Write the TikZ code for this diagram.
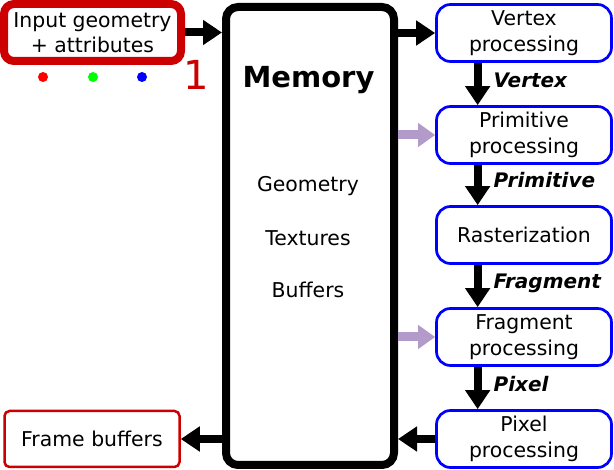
\documentclass[tikz,border=0pt]{standalone}
\usepackage{fontspec}
\setmainfont{DejaVu Sans}
\usetikzlibrary{arrows.meta,calc}
\definecolor{boxred}{RGB}{204,0,0}
\definecolor{boxblue}{RGB}{0,0,255}
\definecolor{lilac}{RGB}{178,154,202}
\definecolor{dotred}{RGB}{255,0,0}
\definecolor{dotgreen}{RGB}{0,255,0}
\definecolor{dotblue}{RGB}{0,0,255}
\tikzset{
  txt/.style={font=\fontsize{20.4pt}{25.5pt}\selectfont, align=center},
  inbox/.style={txt, draw=boxred, line width=8pt, rounded corners=10pt, minimum width=177pt, minimum height=57pt, inner sep=0pt},
  fbox/.style={txt, draw=boxred, line width=2.5pt, rounded corners=5pt, minimum width=175pt, minimum height=56pt, inner sep=0pt},
  membox/.style={draw=black, line width=8pt, rounded corners=12pt, minimum width=168pt, minimum height=458pt, inner sep=0pt},
  stage/.style={txt, draw=boxblue, line width=2.7pt, rounded corners=14pt, minimum width=175pt, minimum height=57pt, inner sep=0pt},
  bigarrow/.style={line width=8pt, -{Triangle[length=19pt,width=24pt]}},
  lilacarrow/.style={draw=lilac, line width=9pt, -{Triangle[length=17pt,width=23pt,fill=lilac]}},
  flowlbl/.style={font=\fontsize{20pt}{24pt}\selectfont\bfseries\itshape, inner sep=0pt, anchor=base west},
  dot/.style={circle, inner sep=0pt, minimum size=10pt}
}
\begin{document}
\begin{tikzpicture}[x=1pt,y=-1pt]
\useasboundingbox (0,0) rectangle (614,470);
% nodes
\node[inbox] (input) at (92.5,32.5) {Input geometry\\+ attributes};
\node[fbox] (frame) at (92,439) {Frame buffers};
\node[membox] (mem) at (310,236) {};
\node[font=\fontsize{29pt}{34pt}\selectfont\bfseries, inner sep=0pt] (memtitle) at (308.5,80) {Memory};
\node[txt, inner sep=0pt] (geo) at (308,186) {Geometry};
\node[txt, inner sep=0pt] (tex) at (308,238) {Textures};
\node[txt, inner sep=0pt] (buf) at (308,289.5) {Buffers};
\node[stage] (vertex) at (524,33) {Vertex\\processing};
\node[stage] (prim) at (524,135) {Primitive\\processing};
\node[stage] (rast) at (524,235) {Rasterization};
\node[stage] (frag) at (524,337) {Fragment\\processing};
\node[stage] (pixel) at (524,439) {Pixel\\processing};
% marker and dots
\node[text=boxred, font=\fontsize{40pt}{44pt}\selectfont, inner sep=0pt, anchor=base] (one) at (196,90) {1};
\node[dot, fill=dotred] (dr) at (43,77) {};
\node[dot, fill=dotgreen] (dg) at (93,77) {};
\node[dot, fill=dotblue] (db) at (142,77) {};
% horizontal arrows
\draw[bigarrow] (input.east) -- (input.east -| mem.west);
\draw[bigarrow] (vertex.west -| mem.east) -- (vertex.west);
\draw[lilacarrow] (prim.west -| mem.east) -- (prim.west);
\draw[lilacarrow] (frag.west -| mem.east) -- (frag.west);
\draw[bigarrow] (pixel.west) -- (pixel.west -| mem.east);
\draw[bigarrow] (frame.east -| mem.west) -- (frame.east);
% vertical arrows
\draw[bigarrow] ($(vertex.south west)+(42.5,0)$) -- ($(prim.north west)+(42.5,0)$)
  node[flowlbl, pos=0.5, xshift=12pt, yshift=-4pt] (lv) {Vertex};
\draw[bigarrow] ($(prim.south west)+(42.5,0)$) -- ($(rast.north west)+(42.5,0)$)
  node[flowlbl, pos=0.5, xshift=12pt, yshift=-3pt] (lp) {Primitive};
\draw[bigarrow] ($(rast.south west)+(42.5,0)$) -- ($(frag.north west)+(42.5,0)$)
  node[flowlbl, pos=0.5, xshift=12pt, yshift=-3pt] (lf) {Fragment};
\draw[bigarrow] ($(frag.south west)+(42.5,0)$) -- ($(pixel.north west)+(42.5,0)$)
  node[flowlbl, pos=0.5, xshift=12pt, yshift=-4pt] (lx) {Pixel};
\end{tikzpicture}
\end{document}
